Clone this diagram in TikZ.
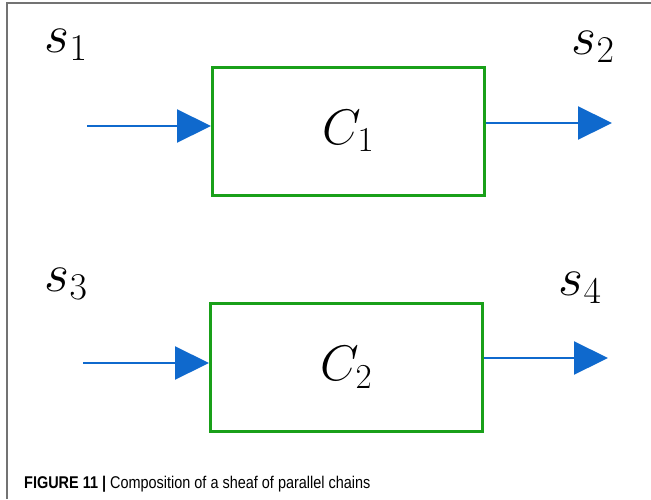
\RequirePackage{fix-cm}
\documentclass[tikz,border=0pt]{standalone}
\usepackage{fontspec}
\newfontfamily\capfont{Liberation Sans}
\usetikzlibrary{arrows.meta}
\definecolor{chaingreen}{RGB}{25,160,25}
\definecolor{sigblue}{RGB}{15,105,205}
\definecolor{framegray}{RGB}{115,115,115}
\begin{document}
\begin{tikzpicture}[x=1pt,y=-1pt,
    chain/.style={draw=chaingreen,line width=3pt,minimum width=272pt,minimum height=128pt,inner sep=0pt,font=\fontsize{50}{54}\selectfont},
    sig/.style={font=\fontsize{54}{58}\selectfont,inner sep=0pt},
    flow/.style={draw=sigblue,line width=2.2pt,-{Triangle[length=34pt,width=33pt]}}]
  \useasboundingbox (0,0) rectangle (651,499);
  \draw[framegray,line width=1.5pt] (7,499) -- (7,3) -- (651,3);
  \draw
    (348.5,131) node[chain] (C1){\raisebox{-5pt}{$C_1$}}
    (346.5,367.5) node[chain] (C2){\raisebox{-5pt}{$C_2$}}
    (66,45) node[sig] (s1){$s_1$}
    (593,47) node[sig] (s2){$s_2$}
    (66,284) node[sig] (s3){$s_3$}
    (580,288) node[sig] (s4){$s_4$};
  \coordinate (in1) at (87,126);
  \coordinate (out1) at (612,123);
  \coordinate (in2) at (83,363);
  \coordinate (out2) at (608,358);
  \begin{scope}[flow]
    \draw (in1) to (in1 -| C1.west);
    \draw (out1 -| C1.east) to (out1);
    \draw (in2) to (in2 -| C2.west);
    \draw (out2 -| C2.east) to (out2);
  \end{scope}
  \node[anchor=base west,inner sep=0pt,font=\capfont\fontsize{17}{20}\selectfont] (cap) at (24,488)
    {\scalebox{0.85}[1]{\textbf{FIGURE 11 |} Composition of a sheaf of parallel chains}};
\end{tikzpicture}
\end{document}
